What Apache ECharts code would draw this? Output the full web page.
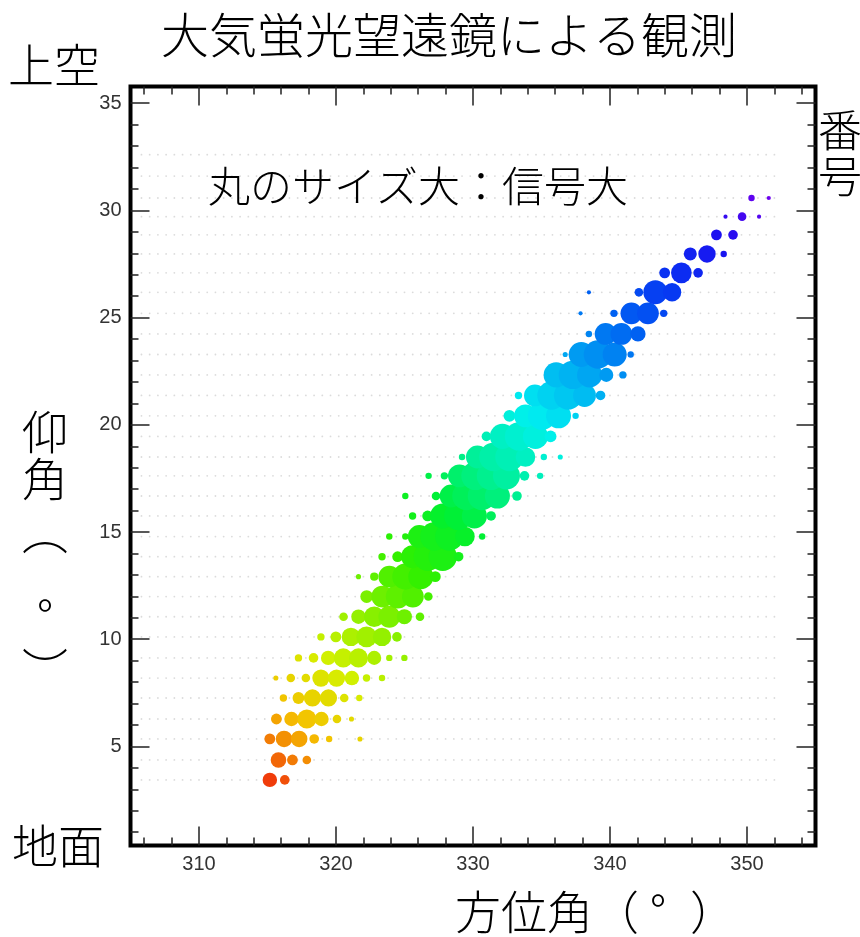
<!DOCTYPE html>
<html>
<head>
<meta charset="utf-8">
<script src="https://cdn.jsdelivr.net/npm/echarts@6/dist/echarts.min.js"></script>
<style>
html,body{margin:0;padding:0;background:#fff;}
#chart{width:860px;height:937px;}
</style>
</head>
<body>
<div id="chart"></div>
<script>
// Camera pixel hits along the shower track: azimuth (deg), elevation (deg),
// signal (arbitrary units) and hit number (番号, used for colour).
const azimuth = [
  315.17,316.26,
  315.80,316.82,317.87,
  315.17,316.21,317.31,318.41,319.50,321.75,
  315.65,316.75,317.87,318.94,320.07,321.13,
  316.16,317.26,318.28,319.45,320.60,321.70,
  315.61,316.70,317.80,318.90,320.04,321.16,322.23,323.36,
  317.26,318.36,319.43,320.53,321.64,322.79,323.89,324.99,
  318.90,319.99,321.09,322.23,323.36,324.45,
  320.55,321.64,322.79,323.89,324.99,326.13,
  322.24,323.38,324.51,325.61,326.74,
  321.64,322.79,323.89,325.06,326.19,327.25,
  323.36,324.50,325.59,326.70,327.79,328.95,
  323.89,325.06,326.08,327.18,328.27,329.41,330.67,
  325.59,326.69,327.79,328.93,330.10,331.32,
  325.06,327.30,328.40,329.52,330.65,331.78,333.21,
  326.76,327.91,329.01,330.18,331.31,332.44,333.76,334.90,
  329.20,330.32,331.49,332.66,333.83,335.17,336.37,
  330.98,332.15,333.36,334.56,335.66,
  332.66,333.83,335.04,336.24,337.49,
  333.32,334.52,335.73,336.94,338.14,339.31,
  336.07,337.29,338.51,339.73,340.94,
  336.73,337.90,339.12,340.34,341.51,
  338.46,339.68,340.83,342.04,
  337.85,340.29,341.56,342.77,343.92,
  338.46,342.11,343.31,344.53,
  343.99,345.21,346.43,
  345.86,347.08,348.30,
  347.77,348.98,
  348.43,349.64,350.88,
  350.33,351.59
];
const elevation = [
  3.44,3.44,
  4.37,4.37,4.37,
  5.35,5.35,5.35,5.35,5.35,5.35,
  6.28,6.28,6.28,6.28,6.28,6.28,
  7.26,7.26,7.26,7.26,7.26,7.26,
  8.19,8.19,8.19,8.19,8.19,8.19,8.19,8.19,
  9.13,9.13,9.13,9.13,9.13,9.13,9.13,9.13,
  10.11,10.11,10.11,10.11,10.11,10.11,
  11.05,11.05,11.05,11.05,11.05,11.05,
  11.99,11.99,11.99,11.99,11.99,
  12.92,12.92,12.92,12.92,12.92,12.92,
  13.85,13.85,13.85,13.85,13.85,13.85,
  14.79,14.79,14.79,14.79,14.79,14.79,14.79,
  15.75,15.75,15.75,15.75,15.75,15.75,
  16.68,16.68,16.68,16.68,16.68,16.68,16.68,
  17.62,17.62,17.62,17.62,17.62,17.62,17.62,17.62,
  18.50,18.50,18.50,18.50,18.50,18.50,18.50,
  19.46,19.46,19.46,19.46,19.46,
  20.42,20.42,20.42,20.42,20.42,
  21.37,21.37,21.37,21.37,21.37,21.37,
  22.33,22.33,22.33,22.33,22.33,
  23.28,23.28,23.28,23.28,23.28,
  24.24,24.24,24.24,24.24,
  25.20,25.20,25.20,25.20,25.20,
  26.18,26.18,26.18,26.18,
  27.09,27.09,27.09,
  27.97,27.97,27.97,
  28.86,28.86,
  29.71,29.71,29.71,
  30.58,30.58
];
const signal = [
  32,12,
  38,16,9,
  16,44,44,12,4,2,
  16,32,60,32,9,2,
  6,20,48,48,9,4,
  2,9,9,48,48,32,6,4,
  6,12,32,60,60,30,4,4,
  6,16,56,72,56,12,
  9,32,72,81,36,9,
  24,81,100,81,9,
  2,8,81,120,110,16,
  6,16,90,144,144,12,
  4,4,90,144,144,64,4,
  6,16,110,144,110,12,
  4,9,90,144,144,110,12,
  4,6,90,144,144,130,12,4,
  4,90,144,144,64,4,2,
  12,110,144,110,20,
  20,90,144,110,4,
  6,81,144,144,90,12,
  110,144,110,30,6,
  2,110,144,100,4,
  4,81,81,36,
  1,6,81,81,6,
  1,9,100,56,
  16,72,12,
  25,49,4,
  16,12,
  1,9,1,
  4,1
];
const hitNumber = [
  0.0,1.2,
  2.6,3.8,4.9,
  3.9,5.1,6.3,7.5,8.7,11.2,
  6.3,7.6,8.8,10.0,11.3,12.4,
  8.9,10.1,11.2,12.5,13.8,15.1,
  10.2,11.4,12.6,13.8,15.1,16.3,17.5,18.8,
  13.9,15.1,16.3,17.6,18.8,20.1,21.3,22.5,
  17.7,18.9,20.2,21.4,22.7,23.9,
  21.5,22.7,24.0,25.2,26.4,27.7,
  25.3,26.5,27.8,29.0,30.3,
  26.5,27.8,29.0,30.3,31.6,32.7,
  30.3,31.6,32.8,34.0,35.2,36.5,
  32.8,34.1,35.2,36.5,37.7,38.9,40.3,
  36.6,37.9,39.1,40.4,41.7,43.0,
  37.9,40.4,41.7,42.9,44.2,45.4,47.0,
  41.7,43.0,44.2,45.5,46.8,48.1,49.5,50.8,
  46.2,47.5,48.8,50.1,51.4,52.9,54.2,
  50.2,51.5,52.8,54.2,55.4,
  54.0,55.3,56.7,58.0,59.4,
  56.7,58.0,59.4,60.7,62.0,63.3,
  61.7,63.0,64.4,65.8,67.1,
  64.3,65.7,67.0,68.4,69.7,
  68.2,69.6,70.9,72.2,
  69.5,72.2,73.6,75.0,76.3,
  72.2,76.2,77.6,78.9,
  80.2,81.5,82.9,
  84.0,85.4,86.8,
  88.0,89.3,
  90.4,91.8,93.2,
  94.3,95.7
];

// Camera pixel layout without signal (faint background dots): row elevations and column azimuths
const pixelRowElevation = [3.44,4.37,5.35,6.28,7.26,8.19,9.13,10.11,11.05,11.99,12.92,13.85,14.79,15.75,16.68,
  17.62,18.50,19.46,20.42,21.37,22.33,23.28,24.24,25.20,26.18,27.09,27.97,28.86,29.71,30.58,31.6,32.6];
const pixelColumnAzimuth = [305.8,306.4,307.0,307.6,308.2,308.8,309.4,310.0,310.6,311.2,311.8,312.4,313.0,313.6,
  314.2,314.8,315.4,316.0,316.6,317.2,317.8,318.4,319.0,319.6,320.2,320.8,321.4,322.0,322.6,323.2,323.8,324.4,
  325.0,325.6,326.2,326.8,327.4,328.0,328.6,329.2,329.8,330.4,331.0,331.6,332.2,332.8,333.4,334.0,334.6,335.2,
  335.8,336.4,337.0,337.6,338.2,338.8,339.4,340.0,340.6,341.2,341.8,342.4,343.0,343.6,344.2,344.8,345.4,346.0,
  346.6,347.2,347.8,348.4,349.0,349.6,350.2,350.8,351.4,352.0];

// Axis ticks
const xMajorTicks = [310, 320, 330, 340, 350];
const xMinorTicks = [306, 308, 312, 314, 316, 318, 322, 324, 326, 328, 332, 334, 336, 338, 342, 344, 346, 348, 352, 354];
const yMajorTicks = [5, 10, 15, 20, 25, 30, 35];
const yMinorTicks = [1, 2, 3, 4, 6, 7, 8, 9, 11, 12, 13, 14, 16, 17, 18, 19, 21, 22, 23, 24, 26, 27, 28, 29, 31, 32, 33, 34];

const points = azimuth.map((a, i) => [a, elevation[i], signal[i], hitNumber[i]]);
const pixels = [];
pixelRowElevation.forEach(e => pixelColumnAzimuth.forEach(a => pixels.push([a, e])));

// colour scale for 番号 (0 .. 96), evenly spaced stops
const rainbow = ['#f03c0a', '#f5c000', '#d4f000', '#88f000', '#30f000', '#00f030',
                 '#00f0a0', '#00f0f0', '#00aaf2', '#0062f2', '#0832f2', '#1c10f0', '#7000f0'];

const tickLine = { color: '#222', width: 1.5 };
const labelFont = { fontFamily: 'Liberation Sans, Arial, sans-serif', fontSize: 20, color: '#333' };

function xAx(pos, ticks, len, withLabel) {
  return {
    type: 'value', min: 305, max: 355, position: pos,
    axisLine: { show: false }, splitLine: { show: false },
    axisTick: { show: true, inside: true, length: len, customValues: ticks, lineStyle: tickLine },
    axisLabel: withLabel ? Object.assign({ show: true, margin: 9, customValues: ticks }, labelFont) : { show: false }
  };
}
function yAx(pos, ticks, len, withLabel) {
  return {
    type: 'value', min: 0.38, max: 35.78, position: pos,
    axisLine: { show: false }, splitLine: { show: false },
    axisTick: { show: true, inside: true, length: len, customValues: ticks, lineStyle: tickLine },
    axisLabel: withLabel ? Object.assign({ show: true, margin: 9, customValues: ticks }, labelFont) : { show: false }
  };
}

const jp = '"Noto Sans CJK JP Light", "Noto Sans CJK JP", "Noto Sans CJK SC", sans-serif';
function txt(x, y, s, size, align) {
  return {
    type: 'text', x: x, y: y, z: 100,
    style: { text: s, fill: '#000', font: '300 ' + size + 'px ' + jp,
             textAlign: align || 'center', textVerticalAlign: 'middle' }
  };
}

const chart = echarts.init(document.getElementById('chart'), null, { renderer: 'canvas' });
chart.setOption({
  animation: false,
  backgroundColor: '#fff',
  grid: { left: 130.5, right: 44.5, top: 86.5, bottom: 91.5, show: true,
          borderColor: '#000', borderWidth: 4, backgroundColor: 'transparent' },
  xAxis: [
    xAx('bottom', xMajorTicks, 19, true),
    xAx('bottom', xMinorTicks, 8, false),
    xAx('top', xMajorTicks, 19, false),
    xAx('top', xMinorTicks, 8, false)
  ],
  yAxis: [
    yAx('left', yMajorTicks, 19, true),
    yAx('left', yMinorTicks, 8, false),
    yAx('right', yMajorTicks, 19, false),
    yAx('right', yMinorTicks, 8, false)
  ],
  visualMap: {
    show: false, type: 'continuous', dimension: 3, min: 0, max: 96,
    seriesIndex: 1, inRange: { color: rainbow }
  },
  series: [{
    type: 'scatter', xAxisIndex: 0, yAxisIndex: 0,
    data: pixels, z: 1,
    symbol: 'circle', symbolSize: 1.8,
    itemStyle: { color: '#d2d2d2' },
    emphasis: { disabled: true },
    silent: true
  }, {
    type: 'scatter', xAxisIndex: 0, yAxisIndex: 0,
    data: points, z: 2,
    symbol: 'circle',
    symbolSize: v => 2 + 2.2 * Math.sqrt(v[2]),
    itemStyle: { opacity: 1 },
    emphasis: { disabled: true },
    silent: true
  }],
  graphic: [
    txt(449, 35, '大気蛍光望遠鏡による観測', 48),
    txt(54, 65, '上空', 46),
    txt(58, 846, '地面', 46),
    txt(45, 432, '仰', 46),
    txt(45, 479, '角', 46),
    txt(45, 532, '︵', 46),
    txt(45, 617, '°', 46),
    txt(45, 670, '︶', 46),
    txt(455, 912, '方位角（', 46, 'left'),
    txt(650, 912, '°', 46, 'left'),
    txt(690, 912, '）', 46, 'left'),
    txt(208, 186, '丸のサイズ大：信号大', 42, 'left'),
    txt(818, 130, '番', 44, 'left'),
    txt(818, 176, '号', 44, 'left')
  ]
});
</script>
</body>
</html>
